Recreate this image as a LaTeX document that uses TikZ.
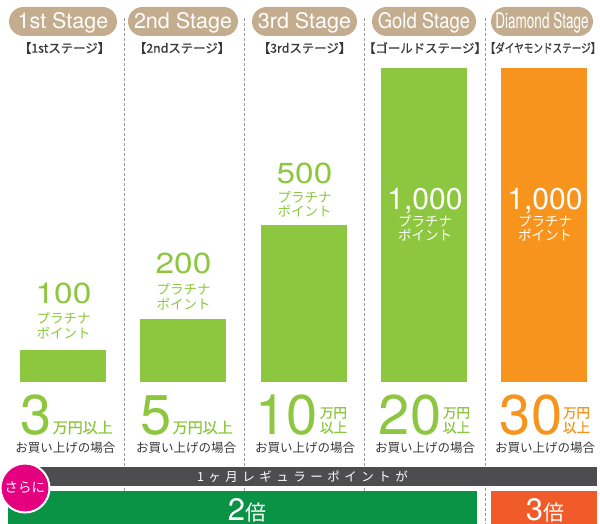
\documentclass[tikz,border=0pt]{standalone}
\usepackage{fontspec}
\usepackage{graphicx}
\setmainfont{TeX Gyre Heros}
\newfontfamily\cjk{Noto Sans CJK JP}
\newfontfamily\cjkm{Noto Sans CJK JP}[FakeBold=0.6]
\newfontfamily\cjkb{Noto Sans CJK JP}[FakeBold=1.2]
\usetikzlibrary{shapes.misc}
\definecolor{pilltan}{HTML}{C4AD8F}
\definecolor{lgreen}{HTML}{8DC63F}
\definecolor{orng}{HTML}{F7941D}
\definecolor{dbar}{HTML}{4D4D4F}
\definecolor{gbar}{HTML}{0A9245}
\definecolor{rbar}{HTML}{F15A29}
\definecolor{magent}{HTML}{E4007F}
\definecolor{txtgray}{HTML}{383838}
\definecolor{divgray}{HTML}{9A9A9A}
\newcommand\fs[1]{\fontsize{#1}{#1}\selectfont}
\newcommand\lsp{\hspace{4.5pt}}
\tikzset{
  pill/.style={rounded rectangle, fill=pilltan, text=white, inner sep=0pt,
    minimum height=29pt, text height=15pt, text depth=0pt, font=\fs{21.5}},
  subt/.style={inner sep=0pt, text=txtgray, font=\cjkm\fs{12.4}},
  divider/.style={draw=divgray, line width=1pt, dash pattern=on 3pt off 2pt},
  ptnum/.style={anchor=base, inner sep=0pt, font=\fs{29}},
  ptjp/.style={inner sep=0pt, font=\cjk\fs{13.5}},
  bignum/.style={anchor=base, inner sep=0pt, text depth=0pt, font=\fs{56}},
  man/.style={anchor=base west, inner sep=0pt, font=\cjkb\fs{15}},
  mantwo/.style={inner sep=0pt, font=\cjkb\fs{13.5}},
  cond/.style={inner sep=0pt, text=txtgray, font=\cjk\fs{12.5}},
  times/.style={anchor=base, inner sep=0pt, text depth=0pt, text=white},
}
\begin{document}
\begin{tikzpicture}[x=1pt,y=-1pt]
\useasboundingbox (0,0) rectangle (600,524);
% dividers
\foreach \x in {124,244,364,485} \draw[divider] (\x,18) -- (\x,524);
% stage pills
\node[pill, minimum width=108pt] (s1) at (63,21.5) {1st Stage};
\node[pill, minimum width=110pt] (s2) at (183,21.5) {2nd Stage};
\node[pill, minimum width=105pt] (s3) at (304.5,21.5) {3rd Stage};
\node[pill, minimum width=104pt] (s4) at (424,21.5) {\scalebox{0.86}[1]{Gold Stage}};
\node[pill, minimum width=102pt] (s5) at (542,21.5) {\scalebox{0.63}[1]{Diamond Stage}};
% subtitles
\node[subt] (j1) at (64.5,48) {【1stステージ】};
\node[subt] (j2) at (182,48) {【2ndステージ】};
\node[subt] (j3) at (304.5,48) {【3rdステージ】};
\node[subt] (j4) at (425,48) {【ゴールドステージ】};
\node[subt] (j5) at (543,48) {\scalebox{0.775}[1]{【ダイヤモンドステージ】}};
% bars
\fill[lgreen] (20,350) rectangle (106,382);
\fill[lgreen] (140,319) rectangle (226,382);
\fill[lgreen] (261,225) rectangle (347,382);
\fill[lgreen] (381,68) rectangle (467,382);
\fill[orng] (501,68) rectangle (587,382);
% point labels
\node[ptnum, text=lgreen] (n1) at (63.5,303) {\scalebox{1.15}[1]{100}};
\node[ptjp, text=lgreen] (p1a) at (63.5,318) {プラチナ};
\node[ptjp, text=lgreen] (p1b) at (63.5,333) {ポイント};
\node[ptnum, text=lgreen] (n2) at (183.5,273) {\scalebox{1.15}[1]{200}};
\node[ptjp, text=lgreen] (p2a) at (183.5,289) {プラチナ};
\node[ptjp, text=lgreen] (p2b) at (183.5,304) {ポイント};
\node[ptnum, text=lgreen] (n3) at (304.5,183) {\scalebox{1.15}[1]{500}};
\node[ptjp, text=lgreen] (p3a) at (304.5,197) {プラチナ};
\node[ptjp, text=lgreen] (p3b) at (304.5,211) {ポイント};
\node[ptnum, text=white, font=\fs{30}] (n4) at (425,209) {1,000};
\node[ptjp, text=white] (p4a) at (425,221) {プラチナ};
\node[ptjp, text=white] (p4b) at (425,235) {ポイント};
\node[ptnum, text=white, font=\fs{30}] (n5) at (545,209) {1,000};
\node[ptjp, text=white] (p5a) at (545,221) {プラチナ};
\node[ptjp, text=white] (p5b) at (545,235) {ポイント};
% purchase amounts
\node[bignum, text=lgreen] (a1) at (36,434) {3};
\node[man, text=lgreen] (m1) at (52.5,433) {万円以上};
\node[bignum, text=lgreen] (a2) at (156,434) {5};
\node[man, text=lgreen] (m2) at (172.5,433) {万円以上};
\node[bignum, text=lgreen] (a3) at (286.5,434) {10};
\node[mantwo, text=lgreen] (m3a) at (333.5,413) {万円};
\node[mantwo, text=lgreen] (m3b) at (333.5,427.5) {以上};
\node[bignum, text=lgreen] (a4) at (410,434) {20};
\node[mantwo, text=lgreen] (m4a) at (456.5,413) {万円};
\node[mantwo, text=lgreen] (m4b) at (456.5,427.5) {以上};
\node[bignum, text=orng] (a5) at (531,434) {30};
\node[mantwo, text=orng] (m5a) at (576.5,413) {万円};
\node[mantwo, text=orng] (m5b) at (576.5,427.5) {以上};
\node[cond] (c1) at (65.5,447.5) {お買い上げの場合};
\node[cond] (c2) at (186,447.5) {お買い上げの場合};
\node[cond] (c3) at (305,447.5) {お買い上げの場合};
\node[cond] (c4) at (425,447.5) {お買い上げの場合};
\node[cond] (c5) at (545,447.5) {お買い上げの場合};
% bottom bands
\fill[dbar] (25,467) rectangle (597,486);
\node[inner sep=0pt, text=white, font=\cjk\fs{12.5}] (reg) at (302.5,477)
  {1\lsp ヶ\lsp 月\lsp レ\lsp ギ\lsp ュ\lsp ラ\lsp ー\lsp ポ\lsp イ\lsp ン\lsp ト\lsp が};
\fill[gbar] (8,491) rectangle (477,524);
\fill[rbar] (491,491) rectangle (597,524);
\node[times] (x2) at (247,520) {\fs{31}2\cjk\fs{21}倍};
\node[times] (x3) at (545,520) {\fs{31}3\cjk\fs{21}倍};
\node[circle, fill=magent, draw=white, line width=2pt, minimum size=49pt, inner sep=0pt,
  text=white, font=\cjk\fs{13.5}] (sarani) at (25,488) {さらに};
\end{tikzpicture}
\end{document}
